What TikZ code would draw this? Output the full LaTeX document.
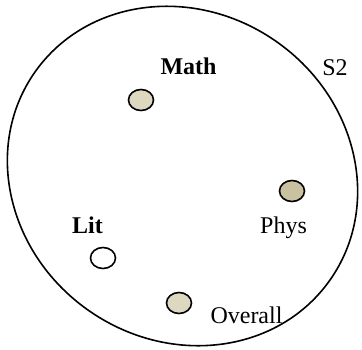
\documentclass[tikz,border=0pt]{standalone}
\usepackage{fontspec}
\setmainfont{Liberation Serif}
\begin{document}
\begin{tikzpicture}[x=1pt,y=-1pt,
  dot/.style={draw=black,line width=1.6pt,ellipse},
  lbl/.style={anchor=base,inner sep=0pt,font=\fontsize{24}{28}\selectfont},
  blbl/.style={lbl,font=\fontsize{24}{28}\selectfont\bfseries}]
\useasboundingbox (0,0) rectangle (362,349);
\definecolor{lightbeige}{HTML}{DDD8C0}
\definecolor{darkbeige}{HTML}{C9C1A0}
\draw[line width=1.6pt,rotate around={-35.4:(182.5,176)}] (182.5,176) ellipse [x radius=180.5, y radius=164];
\fill[lightbeige,draw=black,line width=1.6pt] (141,100) ellipse [x radius=12.5, y radius=10.5];
\fill[darkbeige,draw=black,line width=1.6pt] (292,191) ellipse [x radius=12.5, y radius=10.5];
\fill[white,draw=black,line width=1.6pt] (103,258) ellipse [x radius=12.5, y radius=10.5];
\fill[lightbeige,draw=black,line width=1.6pt] (179,303) ellipse [x radius=12.5, y radius=10.5];
\node[blbl] (math) at (188.5,74) {Math};
\node[lbl] (s2) at (335,75) {S2};
\node[lbl] (phys) at (283.5,233) {Phys};
\node[blbl] (lit) at (87.5,233) {Lit};
\node[lbl] (overall) at (246.5,323) {Overall};
\end{tikzpicture}
\end{document}
